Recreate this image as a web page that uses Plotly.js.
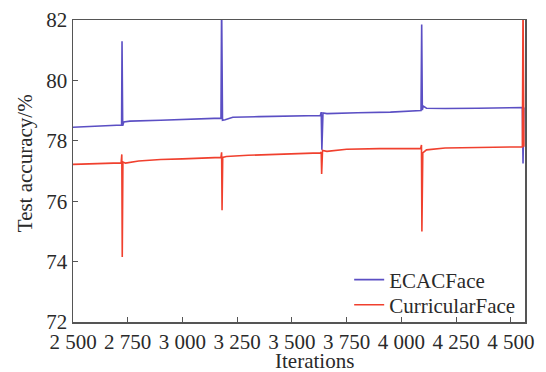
<!DOCTYPE html>
<html><head><meta charset="utf-8">
<script src="https://cdn.plot.ly/plotly-3.0.1.min.js"></script>
<style>html,body{margin:0;padding:0;background:#fff;}#chart{width:546px;height:372px;}</style>
</head><body><div id="chart"></div>
<script>
// ECACFace series (iterations, accuracy %)
const ecacX = [2500, 2600, 2722, 2724, 2727, 2732, 2760, 2900, 3000, 3100, 3176, 3179, 3183, 3195, 3230, 3350, 3500, 3630, 3634, 3637, 3642, 3660, 3800, 3950, 4090, 4093, 4096, 4100, 4115, 4200, 4350, 4500, 4553, 4556, 4560];
const ecacY = [78.45, 78.48, 78.52, 81.3, 78.5, 78.62, 78.65, 78.68, 78.7, 78.73, 78.75, 82.6, 78.68, 78.7, 78.78, 78.8, 78.82, 78.84, 78.95, 77.7, 78.92, 78.9, 78.93, 78.95, 79.0, 81.85, 79.02, 79.15, 79.08, 79.07, 79.08, 79.1, 79.1, 77.25, 79.1];
// CurricularFace series
const curX = [2500, 2600, 2720, 2723, 2725, 2728, 2740, 2800, 2900, 3000, 3100, 3176, 3179, 3181, 3184, 3200, 3300, 3500, 3630, 3634, 3636, 3640, 3660, 3750, 3900, 4088, 4092, 4094, 4098, 4115, 4200, 4350, 4500, 4553, 4556, 4560];
const curY = [77.22, 77.24, 77.27, 77.55, 74.15, 77.3, 77.26, 77.33, 77.38, 77.4, 77.43, 77.45, 77.62, 75.7, 77.45, 77.48, 77.52, 77.56, 77.6, 77.62, 76.9, 77.68, 77.65, 77.72, 77.74, 77.74, 77.86, 75.0, 77.6, 77.7, 77.76, 77.78, 77.8, 77.8, 82.6, 77.8];
const xTickVals = [2500, 2750, 3000, 3250, 3500, 3750, 4000, 4250, 4500];
const xTickText = ["2 500", "2 750", "3 000", "3 250", "3 500", "3 750", "4 000", "4 250", "4 500"];
const yTickVals = [72, 74, 76, 78, 80, 82];
const xTitle = "Iterations";
const yTitle = "Test accuracy/%";

const font = "Liberation Serif, Times New Roman, serif";
const txt = '#2a2a2a';
const data = [
  {x: ecacX, y: ecacY, type: 'scatter', mode: 'lines', name: 'ECACFace', legend: 'legend',
   line: {color: '#5b4fc4', width: 1.6}},
  {x: curX, y: curY, type: 'scatter', mode: 'lines', name: 'CurricularFace', legend: 'legend2',
   line: {color: '#f0402e', width: 1.6}}
];
const legFont = {family: font, size: 21, color: txt};
const layout = {
  width: 546, height: 372,
  margin: {l: 73, r: 21, t: 20, b: 50},
  paper_bgcolor: '#fff', plot_bgcolor: '#fff',
  font: {family: font, size: 21, color: txt},
  showlegend: true,
  legend: {x: 0.611, y: 0.207, xanchor: 'left', yanchor: 'top',
           bgcolor: 'rgba(255,255,255,0)', font: legFont, itemwidth: 30},
  legend2: {x: 0.611, y: 0.124, xanchor: 'left', yanchor: 'top',
           bgcolor: 'rgba(255,255,255,0)', font: legFont, itemwidth: 30},
  xaxis: {range: [2500, 4565], tickmode: 'array', tickvals: xTickVals, ticktext: xTickText,
          ticks: 'inside', ticklen: 5, tickcolor: '#555', showgrid: false, zeroline: false,
          showline: true, linecolor: '#555', linewidth: 1.5, mirror: true,
          tickfont: {family: font, size: 21, color: txt}},
  yaxis: {range: [72, 82], tickmode: 'array', tickvals: yTickVals,
          ticks: 'inside', ticklen: 5, tickcolor: '#555', showgrid: false, zeroline: false,
          showline: true, linecolor: '#555', linewidth: 1.5, mirror: true,
          tickfont: {family: font, size: 21, color: txt}},
  annotations: [
    {text: xTitle, xref: 'paper', yref: 'paper', x: 0.535, y: -0.128, xanchor: 'center', yanchor: 'middle',
     showarrow: false, font: {family: font, size: 21, color: txt}},
    {text: yTitle, xref: 'paper', yref: 'paper', x: -0.106, y: 0.526, xanchor: 'center', yanchor: 'middle',
     textangle: -90, showarrow: false, font: {family: font, size: 21, color: txt}}
  ]
};
Plotly.newPlot('chart', data, layout, {displayModeBar: false, staticPlot: true});
</script></body></html>
